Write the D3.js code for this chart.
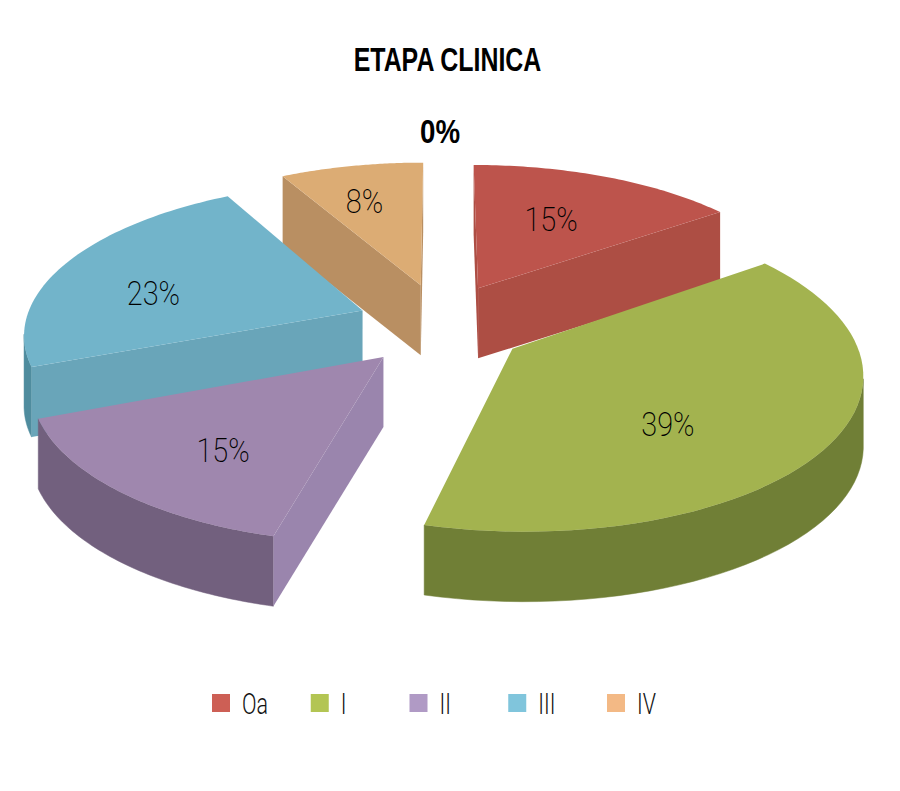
<!DOCTYPE html>
<html>
<head>
<meta charset="utf-8">
<script src="https://cdn.jsdelivr.net/npm/d3@7"></script>
<style>
html, body { margin: 0; padding: 0; background: #fff; }
svg { display: block; }
</style>
</head>
<body>
<svg width="900" height="791"></svg>
<script>
const TITLE = "ETAPA CLINICA"
const CATEGORIES = ["Oa", "I", "II", "III", "IV"]
const VALUES = [15, 39, 15, 23, 8]
const ZERO_LABEL = "0%"

const LEGEND_COLORS = ["#cd5f55", "#b3c553", "#b09ac5", "#80c5dc", "#f3b985"]
const TOP_COLORS = ["#bd544c", "#a3b34f", "#9f87ae", "#72b4ca", "#dcac74"]
const FACE_COLORS = ["#ad4e44", "#707f36", "#9a85ad", "#69a5b9", "#b98f62"]
const ARC_COLORS = ["#ad4e44", "#707f36", "#72607e", "#4f8c9e", "#b98f62"]
const DRAW_ORDER = [4, 0, 3, 2, 1]

const width = 900, height = 791
const centerX = 441, centerY = 324.5
const radiusX = 338, radiusY = 150
const explodeX = 0.25, explodeY = 0.28, perspective = 0.14, depth = 70
const labelRadius = 0.58
// hand placed, excel does not put them on the bisector
const LABEL_NUDGE = [[-5, -2], [-22, 22], [-14, 19], [-34, 10], [-14, -12]]
const FONT = "Roboto, 'Liberation Sans', sans-serif"
const BOLD_FONT = "'Liberation Sans', sans-serif"

const svg = d3.select("svg")

const xScale = d3.scaleLinear().domain([-1, 1]).range([centerX - radiusX, centerX + radiusX])
const yScale = d3.scaleLinear().domain([-1, 1]).range([centerY + radiusY, centerY - radiusY])

// pie plane to screen, the back of the pie is further away
function project(x, y)
{
    const w = 1 + perspective * y
    return [xScale(x / w), yScale(y / w)]
}

const arcs = d3.pie().sort(null)(VALUES)

function slicePoint(d, angle, r)
{
    const mid = (d.startAngle + d.endAngle) / 2
    return project(
        explodeX * Math.sin(mid) + r * Math.sin(angle),
        explodeY * Math.cos(mid) + r * Math.cos(angle))
}

const line = d3.line()

function wall(a, b)
{
    return line(a.concat(b.map(p => [p[0], p[1] + depth]).reverse())) + "Z"
}

function drawSlice(i)
{
    const d = arcs[i]
    const apex = slicePoint(d, 0, 0)
    const rim = d3.range(0, 61).map(k =>
        slicePoint(d, d.startAngle + (d.endAngle - d.startAngle) * k / 60, 1))
    const g = svg.append("g")

    // only the edges that run right to left face the viewer
    let run = []
    const flush = () =>
    {
        if (run.length > 1)
        {
            g.append("path").attr("d", wall(run, run))
                .attr("fill", ARC_COLORS[i]).attr("stroke", ARC_COLORS[i]).attr("stroke-width", 0.5)
        }
        run = []
    }
    rim.forEach((p, k) =>
    {
        if (k > 0 && p[0] < rim[k - 1][0])
        {
            if (!run.length) run.push(rim[k - 1])
            run.push(p)
        }
        else flush()
    })
    flush()

    const edges = [[apex, rim[0]], [rim[rim.length - 1], apex]]
    edges.filter(e => e[1][0] < e[0][0]).forEach(e =>
    {
        g.append("path").attr("d", wall(e, e)).attr("fill", FACE_COLORS[i])
    })

    g.append("path")
        .attr("d", line([apex].concat(rim)) + "Z")
        .attr("fill", TOP_COLORS[i])
}

DRAW_ORDER.forEach(drawSlice)

function thinText(x, y, str, size, scaleX, fontWeight, family, fill)
{
    svg.append("text")
        .attr("transform", "translate(" + x + "," + y + ") scale(" + scaleX + ",1)")
        .attr("text-anchor", "middle")
        .attr("font-family", family)
        .attr("font-size", size)
        .attr("font-weight", fontWeight)
        .attr("fill", fill)
        .text(str)
}

arcs.forEach((d, i) =>
{
    const mid = (d.startAngle + d.endAngle) / 2
    const p = slicePoint(d, mid, labelRadius)
    thinText(p[0] + LABEL_NUDGE[i][0], p[1] + 12 + LABEL_NUDGE[i][1], d.value + "%", 34, 0.85, 200, FONT, "#000")
})

thinText(447.5, 71, TITLE, 33, 0.755, 700, BOLD_FONT, "#000")
thinText(440, 143, ZERO_LABEL, 33, 0.84, 700, BOLD_FONT, "#000")

// legend
const legendX = d3.scalePoint().domain(CATEGORIES).range([212, 607])
const legend = svg.selectAll("g.legend").data(CATEGORIES).enter().append("g")
    .attr("class", "legend")
    .attr("transform", d => "translate(" + legendX(d) + ",694)")

legend.append("rect")
    .attr("width", 18).attr("height", 18)
    .attr("fill", (d, i) => LEGEND_COLORS[i])

// opacity keeps the thin strokes grey, no coloured subpixel fringes
legend.append("text")
    .attr("transform", "translate(30,20) scale(0.74,1)")
    .attr("font-family", FONT)
    .attr("font-size", 29)
    .attr("font-weight", 300)
    .attr("fill", "#111")
    .attr("opacity", 0.99)
    .text(d => d)
</script>
</body>
</html>
